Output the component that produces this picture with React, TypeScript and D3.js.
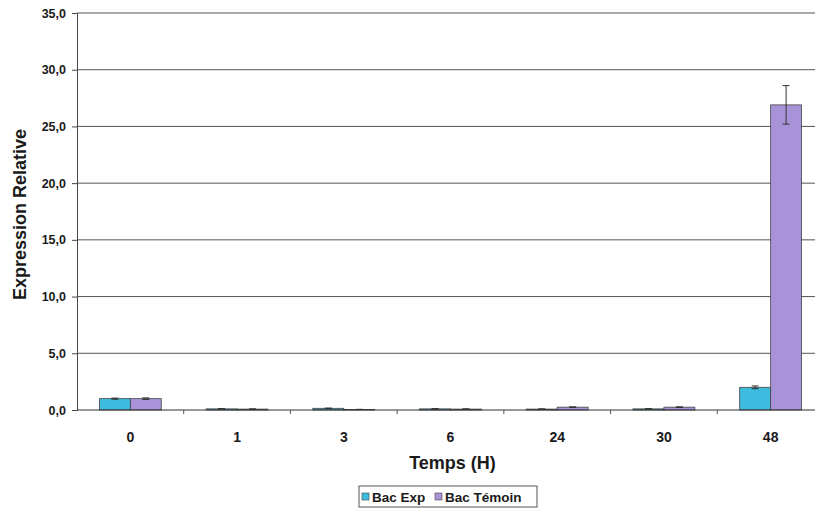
import { useEffect, useRef } from "react";
import * as d3 from "d3";

const categories = ["0", "1", "3", "6", "24", "30", "48"];
const seriesNames = ["Bac Exp", "Bac Témoin"];
const bacExp = [1.0, 0.1, 0.15, 0.1, 0.08, 0.1, 2.0];
const bacExpErr = [0.05, 0.02, 0.02, 0.02, 0.02, 0.02, 0.12];
const bacTemoin = [1.0, 0.08, 0.05, 0.08, 0.25, 0.25, 26.9];
const bacTemoinErr = [0.07, 0.02, 0.01, 0.02, 0.03, 0.03, 1.7];
const yTicks = [0, 5, 10, 15, 20, 25, 30, 35];
const colors = ["#3dbce0", "#a893d8"];

const FONT = "'Liberation Sans', Arial, sans-serif";

const App = () => {
    const ref = useRef<SVGSVGElement>(null);

    useEffect(() => {
        document.body.style.margin = "0";
        if (!ref.current) return;
        const svg = d3.select(ref.current);
        svg.selectAll("*").remove();

        const left = 77, right = 824, top = 13, bottom = 410;

        const x0 = d3.scaleBand().domain(categories).range([left, right]).padding(0);
        const x1 = d3.scaleBand().domain(seriesNames)
            .range([0, x0.bandwidth()]).paddingInner(0).paddingOuter(0.725);
        const y = d3.scaleLinear().domain([0, 35]).range([bottom, top]);

        const fmt = (v: number) => d3.format(".1f")(v).replace(".", ",");

        // gridlines
        svg.append("g").selectAll("line")
            .data(yTicks.filter(t => t > 0))
            .enter().append("line")
            .attr("x1", left).attr("x2", 815)
            .attr("y1", d => y(d)).attr("y2", d => y(d))
            .attr("stroke", "#555").attr("stroke-width", 1);

        // y axis
        const yAxis = svg.append("g")
            .attr("transform", `translate(${left},0)`)
            .call(d3.axisLeft(y).tickValues(yTicks).tickFormat(d => fmt(+d)).tickSize(5).tickPadding(6));
        yAxis.select(".domain").attr("stroke", "#444");
        yAxis.selectAll(".tick line").attr("stroke", "#444");
        yAxis.selectAll("text")
            .attr("font-family", FONT).attr("font-size", 12.5).attr("font-weight", "bold")
            .attr("fill", "#1a1a1a");

        const data = categories.map((c, i) => ({
            cat: c,
            values: [
                { name: seriesNames[0], v: bacExp[i], e: bacExpErr[i] },
                { name: seriesNames[1], v: bacTemoin[i], e: bacTemoinErr[i] },
            ],
        }));

        const groups = svg.append("g").selectAll("g")
            .data(data).enter().append("g")
            .attr("transform", d => `translate(${x0(d.cat)},0)`);

        groups.selectAll("rect")
            .data(d => d.values)
            .enter().append("rect")
            .attr("x", d => x1(d.name)!)
            .attr("y", d => y(d.v))
            .attr("width", x1.bandwidth())
            .attr("height", d => bottom - y(d.v))
            .attr("fill", (_d, i) => colors[i])
            .attr("stroke", "#444").attr("stroke-width", 0.8);

        // error bars
        const eb = groups.selectAll("g.err")
            .data(d => d.values)
            .enter().append("g").attr("class", "err")
            .attr("stroke", "#333").attr("stroke-width", 1);
        eb.append("line")
            .attr("x1", d => x1(d.name)! + x1.bandwidth() / 2)
            .attr("x2", d => x1(d.name)! + x1.bandwidth() / 2)
            .attr("y1", d => y(d.v + d.e)).attr("y2", d => y(Math.max(0, d.v - d.e)));
        eb.append("line")
            .attr("x1", d => x1(d.name)! + x1.bandwidth() / 2 - 3.5)
            .attr("x2", d => x1(d.name)! + x1.bandwidth() / 2 + 3.5)
            .attr("y1", d => y(d.v + d.e)).attr("y2", d => y(d.v + d.e));
        eb.append("line")
            .attr("x1", d => x1(d.name)! + x1.bandwidth() / 2 - 3.5)
            .attr("x2", d => x1(d.name)! + x1.bandwidth() / 2 + 3.5)
            .attr("y1", d => y(Math.max(0, d.v - d.e))).attr("y2", d => y(Math.max(0, d.v - d.e)));

        // x axis
        svg.append("line")
            .attr("x1", left).attr("x2", 815)
            .attr("y1", bottom).attr("y2", bottom)
            .attr("stroke", "#333").attr("stroke-width", 1.2);
        svg.append("g").selectAll("line")
            .data(categories.slice(1))
            .enter().append("line")
            .attr("x1", d => x0(d)!).attr("x2", d => x0(d)!)
            .attr("y1", bottom).attr("y2", bottom + 4)
            .attr("stroke", "#555");
        svg.append("g").selectAll("text")
            .data(categories)
            .enter().append("text")
            .attr("x", d => x0(d)! + x0.bandwidth() / 2)
            .attr("y", 442)
            .attr("text-anchor", "middle")
            .attr("font-family", FONT).attr("font-size", 14).attr("font-weight", "bold")
            .attr("fill", "#1a1a1a")
            .text(d => d);

        // axis titles
        svg.append("text")
            .attr("x", (left + right) / 2 + 2).attr("y", 469)
            .attr("text-anchor", "middle")
            .attr("font-family", FONT).attr("font-size", 18).attr("font-weight", "bold")
            .attr("fill", "#1a1a1a")
            .text("Temps (H)");
        svg.append("text")
            .attr("transform", `translate(26,${(top + bottom) / 2 + 3}) rotate(-90)`)
            .attr("text-anchor", "middle")
            .attr("font-family", FONT).attr("font-size", 18).attr("font-weight", "bold")
            .attr("fill", "#1a1a1a")
            .text("Expression Relative");

        // legend
        const lg = svg.append("g").attr("transform", "translate(359,486)");
        lg.append("rect")
            .attr("width", 178).attr("height", 21)
            .attr("fill", "white").attr("stroke", "#555").attr("stroke-width", 1);
        const offsets = [3, 76];
        seriesNames.forEach((s, i) => {
            lg.append("rect")
                .attr("x", offsets[i]).attr("y", 7)
                .attr("width", 7).attr("height", 7)
                .attr("fill", colors[i]).attr("stroke", "#444").attr("stroke-width", 0.6);
            lg.append("text")
                .attr("x", offsets[i] + 10).attr("y", 15.5)
                .attr("font-family", FONT).attr("font-size", 13.5).attr("font-weight", "bold")
                .attr("fill", "#1a1a1a")
                .text(s);
        });
    }, []);

    return <svg ref={ref} width={815} height={509} style={{ display: "block", background: "white" }} />;
};

export default App;
